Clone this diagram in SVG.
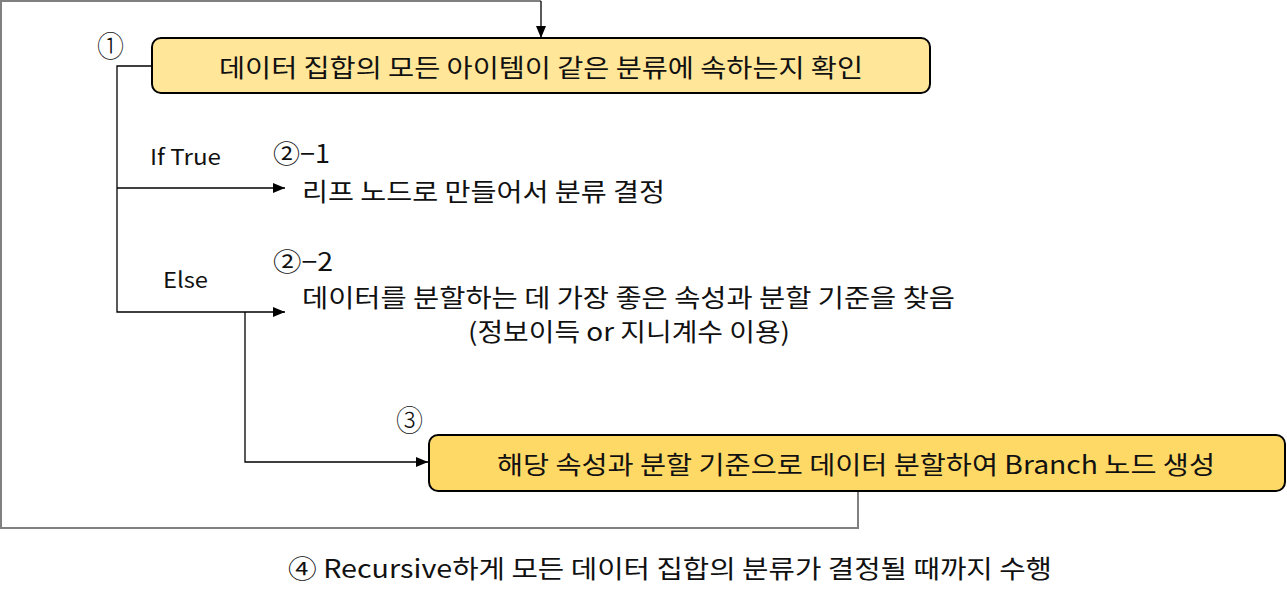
<svg xmlns="http://www.w3.org/2000/svg" width="1287" height="601" viewBox="0 0 1287 601">
<style>
text{font-family:"Noto Sans CJK KR","Noto Sans",sans-serif;fill:#111;dominant-baseline:central}
.t{font-size:25px}
.s{font-size:22px}
.c{font-size:30px;font-weight:300}
.ln{fill:none;stroke:#000;stroke-width:1.3}
.gl{fill:none;stroke:#808080;stroke-width:2}
.box{stroke:#000;stroke-width:2}
</style>
<defs>
<marker id="ah" viewBox="0 0 12 10" refX="12" refY="5" markerWidth="12" markerHeight="10" markerUnits="userSpaceOnUse" orient="auto">
<path d="M0,0 L12,5 L0,10 z" fill="#000"/>
</marker>
</defs>
<rect width="1287" height="601" fill="#fff"/>
<g id="connectors">
<polyline class="gl" points="858,491 858,528 1,528 1,1 541,1"/>
<line class="ln" x1="541" y1="1" x2="541" y2="38" marker-end="url(#ah)"/>
<polyline class="ln" points="152,66 117,66 117,312 285,312" marker-end="url(#ah)"/>
<line class="ln" x1="117" y1="188" x2="285" y2="188" marker-end="url(#ah)"/>
<polyline class="ln" points="245,312 245,462 428,462" marker-end="url(#ah)"/>
</g>
<g id="node1">
<rect class="box" x="152" y="38" width="778" height="55" rx="9" fill="#FFE699"/>
<text class="t" x="219" y="66" textLength="644" lengthAdjust="spacingAndGlyphs">데이터 집합의 모든 아이템이 같은 분류에 속하는지 확인</text>
</g>
<g id="node2">
<rect class="box" x="429" y="435" width="856" height="56" rx="9" fill="#FFD966"/>
<text class="t" x="497" y="463" textLength="718" lengthAdjust="spacingAndGlyphs">해당 속성과 분할 기준으로 데이터 분할하여 Branch 노드 생성</text>
</g>
<g id="labels">
<text class="c" x="97" y="44" textLength="27" lengthAdjust="spacingAndGlyphs">①</text>
<text class="s" x="150" y="155" textLength="71" lengthAdjust="spacingAndGlyphs">If True</text>
<text class="t" x="273" y="152" textLength="57" lengthAdjust="spacingAndGlyphs">②−1</text>
<text class="t" x="302" y="190" textLength="363" lengthAdjust="spacingAndGlyphs">리프 노드로 만들어서 분류 결정</text>
<text class="s" x="163" y="278" textLength="45" lengthAdjust="spacingAndGlyphs">Else</text>
<text class="t" x="273" y="260" textLength="60" lengthAdjust="spacingAndGlyphs">②−2</text>
<text class="t" x="302" y="296" textLength="653" lengthAdjust="spacingAndGlyphs">데이터를 분할하는 데 가장 좋은 속성과 분할 기준을 찾음</text>
<text class="t" x="468" y="330" textLength="322" lengthAdjust="spacingAndGlyphs">(정보이득 or 지니계수 이용)</text>
<text class="c" x="396" y="418" textLength="27" lengthAdjust="spacingAndGlyphs">③</text>
<text class="t" x="288" y="567" textLength="764" lengthAdjust="spacingAndGlyphs">④  Recursive하게 모든 데이터 집합의 분류가 결정될 때까지 수행</text>
</g>
</svg>
